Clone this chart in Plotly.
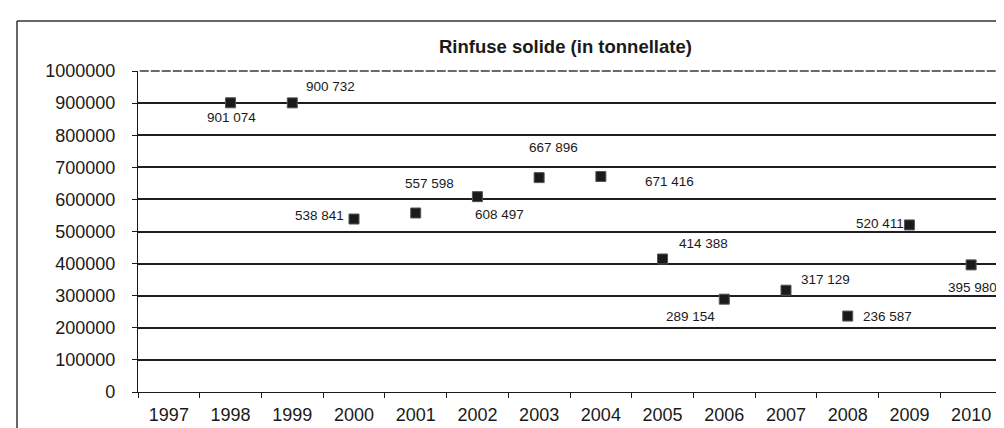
import plotly.graph_objects as go

# ---- data ----
categories = [str(y) for y in range(1997, 2011)]
years = ["1998", "1999", "2000", "2001", "2002", "2003", "2004",
         "2005", "2006", "2007", "2008", "2009", "2010"]
tonnes = [901074, 900732, 538841, 557598, 608497, 667896, 671416,
          414388, 289154, 317129, 236587, 520411, 395980]
y_ticks = list(range(0, 1000001, 100000))
title_text = "Rinfuse solide (in tonnellate)"

# ---- label offsets (screen px: dx right, dy down) ----
label_dx = [1, 38, -35, 14, 22, 14, 69, 41, -34, 39, 40, -29, 1]
label_dy = [15, -16, -4, -30, 18, -30, 5, -15, 17, -11, 0, -1, 23]

FONT = "Liberation Sans, Arial, Helvetica, sans-serif"
INK = "#1a1a1a"

W, H = 1004, 428
L, R, T, B = 130, 10, 63, 44
pw, ph = W - L - R, H - T - B

def px(x):
    return (x - L) / pw

def py(y):
    return (H - B - y) / ph

fig = go.Figure()
fig.add_trace(go.Scatter(
    x=years, y=tonnes, mode="markers",
    marker=dict(symbol="square", size=10, color=INK,
                line=dict(color="#555", width=1)),
    hoverinfo="x+y", showlegend=False,
))

annotations = []
for yr, v, dx, dy in zip(years, tonnes, label_dx, label_dy):
    annotations.append(dict(
        x=categories.index(yr), y=v, xref="x", yref="y",
        text=f"{v:,}".replace(",", " "),
        showarrow=False, xshift=dx, yshift=-dy,
        font=dict(family=FONT, size=13.5, color=INK),
        xanchor="center", yanchor="middle",
    ))

annotations.append(dict(
    x=px(557), y=py(38), xref="paper", yref="paper",
    text="<b>" + title_text + "</b>", showarrow=False,
    font=dict(family=FONT, size=18.5, color=INK),
    xanchor="center", yanchor="middle",
))

shapes = [
    # outer frame (top and left visible)
    dict(type="line", xref="paper", yref="paper",
         x0=px(9), x1=px(1010), y0=py(13), y1=py(13),
         line=dict(color="#333", width=1.5)),
    dict(type="line", xref="paper", yref="paper",
         x0=px(9), x1=px(9), y0=py(13), y1=py(440),
         line=dict(color="#333", width=1.5)),
    # plot-area top border: dashed grey line over the top gridline
    dict(type="line", xref="paper", yref="paper",
         x0=0.002, x1=1, y0=1, y1=1,
         line=dict(color="white", width=2.5)),
    dict(type="line", xref="paper", yref="paper",
         x0=0.002, x1=1, y0=1, y1=1,
         line=dict(color="#3a3a3a", width=1.4, dash="9px,2px")),
    # plot-area right border (dashed)
    dict(type="line", xref="paper", yref="paper",
         x0=1, x1=1, y0=0, y1=1,
         line=dict(color="#3a3a3a", width=1.2, dash="9px,2px")),
]

fig.update_layout(
    width=W, height=H,
    margin=dict(l=L, r=R, t=T, b=B, pad=0),
    paper_bgcolor="white", plot_bgcolor="white",
    font=dict(family=FONT, size=18, color=INK),
    annotations=annotations, shapes=shapes,
    showlegend=False,
)

fig.update_xaxes(
    type="category", categoryorder="array", categoryarray=categories,
    range=[-0.5, len(categories) - 0.5],
    showgrid=False, showline=True, linecolor=INK, linewidth=1.3,
    ticks="outside", tickson="boundaries", ticklen=5, tickcolor=INK,
    tickfont=dict(family=FONT, size=18, color=INK),
    ticklabelstandoff=6,
    zeroline=False,
)
fig.update_yaxes(
    range=[0, 1000000], tickmode="array", tickvals=y_ticks,
    ticktext=[str(v) for v in y_ticks],
    showgrid=True, gridcolor="#1e1e1e", gridwidth=1.5,
    showline=True, linecolor=INK, linewidth=1.3,
    ticks="outside", ticklen=5, tickcolor=INK,
    tickfont=dict(family=FONT, size=18, color=INK),
    ticklabelstandoff=13,
    zeroline=False,
)

fig.write_html("out.html")
